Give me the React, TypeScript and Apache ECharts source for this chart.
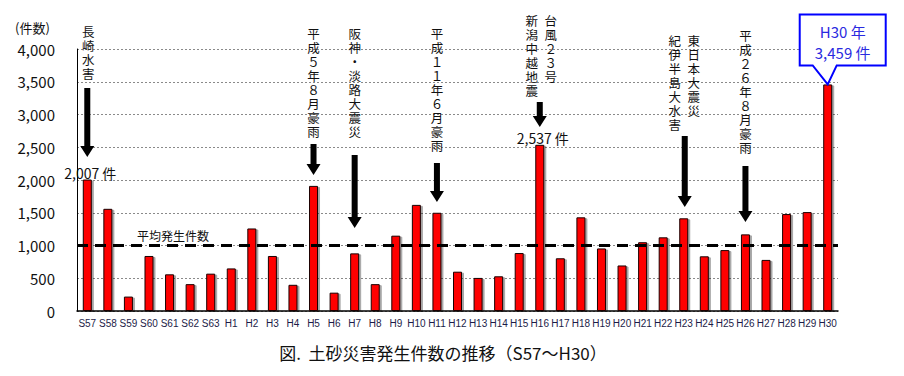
import React, { useEffect, useRef } from "react";
import * as echarts from "echarts";

const categories = [
  "S57", "S58", "S59", "S60", "S61", "S62", "S63",
  "H1", "H2", "H3", "H4", "H5", "H6", "H7", "H8", "H9", "H10",
  "H11", "H12", "H13", "H14", "H15", "H16", "H17", "H18", "H19", "H20",
  "H21", "H22", "H23", "H24", "H25", "H26", "H27", "H28", "H29", "H30",
];

const counts = [
  2007, 1560, 220, 840, 560, 410, 570,
  650, 1260, 840, 400, 1910, 280, 880, 410, 1150, 1620,
  1500, 600, 505, 530, 885, 2537, 805, 1430, 955, 695,
  1050, 1125, 1415, 835, 930, 1170, 780, 1480, 1510, 3459,
];

const yTicks = [0, 500, 1000, 1500, 2000, 2500, 3000, 3500, 4000];
const averageCount = 1010;

const averageLabel = "平均発生件数";
const yUnit = "(件数)";
const titleText = "図.  土砂災害発生件数の推移（S57～H30）";

const eventNotes = [
  { cat: "S57", cols: [{ text: "長崎水害", dx: 1, top: 26 }], arrowTop: 88, arrowTip: 157 },
  { cat: "H5", cols: [{ text: "平成５年８月豪雨", dx: 0, top: 28 }], arrowTop: 144, arrowTip: 175 },
  { cat: "H7", cols: [{ text: "阪神・淡路大震災", dx: 0, top: 28 }], arrowTop: 155, arrowTip: 228 },
  { cat: "H11", cols: [{ text: "平成１１年６月豪雨", dx: 0, top: 28 }], arrowTop: 163, arrowTip: 202 },
  {
    cat: "H16",
    cols: [
      { text: "新潟中越地震", dx: -8, top: 15 },
      { text: "台風２３号", dx: 11, top: 15 },
    ],
    arrowTop: 102,
    arrowTip: 127,
  },
  {
    cat: "H23",
    cols: [
      { text: "東日本大震災", dx: 10, top: 35 },
      { text: "紀伊半島大水害", dx: -9, top: 35 },
    ],
    arrowTop: 136,
    arrowTip: 207,
  },
  { cat: "H26", cols: [{ text: "平成２６年８月豪雨", dx: 0, top: 30 }], arrowTop: 166, arrowTip: 222 },
];

const valueLabelCats = ["S57", "H16"];
const calloutCat = "H30";

const FONT = "'Noto Sans CJK JP', 'Noto Sans', sans-serif";
const VFONT = "'Liberation Sans', 'Noto Sans CJK JP', sans-serif";

export default function App() {
  const ref = useRef<HTMLDivElement>(null);

  useEffect(() => {
    if (!ref.current) return;
    const chart = echarts.init(ref.current, undefined, { renderer: "svg" });

    chart.setOption({
      animation: false,
      backgroundColor: "#ffffff",
      grid: { left: 77, right: 66, top: 49, bottom: 65, containLabel: false },
      xAxis: {
        type: "category",
        data: categories,
        boundaryGap: true,
        axisLine: { show: true, lineStyle: { color: "#000", width: 1.5 } },
        axisTick: { show: false },
        axisLabel: {
          interval: 0,
          margin: 7,
          fontSize: 10,
          color: "#1c1c48",
          fontFamily: "'Liberation Sans', Arial, sans-serif",
        },
        splitLine: { show: false },
      },
      yAxis: {
        type: "value",
        min: yTicks[0],
        max: yTicks[yTicks.length - 1],
        interval: yTicks[1] - yTicks[0],
        axisLine: { show: true, lineStyle: { color: "#000", width: 1 } },
        axisTick: { show: false },
        axisLabel: {
          margin: 22,
          fontSize: 15,
          color: "#111",
          fontFamily: FONT,
          formatter: (v: number) => v.toLocaleString("en-US"),
        },
        splitLine: { show: true, lineStyle: { color: "#8a8a8a", type: [2, 2], width: 1 } },
      },
      series: [
        {
          type: "bar",
          data: counts,
          barWidth: 9,
          itemStyle: {
            color: "#ff0000",
            borderColor: "#1a0000",
            borderWidth: 1,
            shadowColor: "rgba(0,0,0,0.35)",
            shadowOffsetX: 2,
            shadowOffsetY: 1,
            shadowBlur: 0,
          },
          markLine: {
            silent: true,
            symbol: "none",
            label: { show: false },
            lineStyle: { color: "#000", width: 3, type: [11, 7] },
            data: [{ yAxis: averageCount }],
          },
          z: 3,
        },
      ],
    });

    const px = (cat: string) => chart.convertToPixel({ xAxisIndex: 0 }, cat) as number;
    const py = (v: number) => chart.convertToPixel({ yAxisIndex: 0 }, v) as number;

    const graphics: any[] = [];

    graphics.push({
      type: "text",
      left: 15,
      top: 21,
      style: { text: yUnit, font: `13px ${FONT}`, fill: "#111" },
    });

    graphics.push({
      type: "text",
      x: 137,
      y: py(averageCount) - 9,
      style: {
        text: averageLabel,
        font: `12px ${FONT}`,
        fill: "#111",
        textAlign: "left",
        textVerticalAlign: "middle",
      },
    });

    eventNotes.forEach((n) => {
      const x = px(n.cat);
      n.cols.forEach((c) => {
        graphics.push({
          type: "text",
          x: x + c.dx,
          y: c.top,
          style: {
            text: Array.from(c.text).join("\n"),
            font: `12.5px ${VFONT}`,
            lineHeight: 14,
            fill: "#111",
            textAlign: "center",
            textVerticalAlign: "top",
          },
        });
      });
      const ax = x + (n.cat === "H23" ? 1 : 0);
      const t = n.arrowTop;
      const b = n.arrowTip;
      graphics.push({
        type: "polygon",
        shape: {
          points: [
            [ax - 3, t],
            [ax + 3, t],
            [ax + 3, b - 11],
            [ax + 7, b - 11],
            [ax, b],
            [ax - 7, b - 11],
            [ax - 3, b - 11],
          ],
        },
        style: { fill: "#000" },
      });
    });

    valueLabelCats.forEach((cat) => {
      const i = categories.indexOf(cat);
      graphics.push({
        type: "text",
        x: px(cat) + 3,
        y: py(counts[i]) - 7,
        style: {
          text: `${counts[i].toLocaleString("en-US")} 件`,
          font: `14px ${FONT}`,
          fill: "#111",
          textAlign: "center",
          textVerticalAlign: "middle",
        },
        z: 10,
      });
    });

    {
      const i = categories.indexOf(calloutCat);
      const tx = px(calloutCat);
      const ty = py(counts[i]);
      const L = tx - 28, R = tx + 58, T = ty - 70, B = ty - 19;
      graphics.push({
        type: "polygon",
        shape: {
          points: [
            [L, T], [R, T], [R, B], [tx + 9, B], [tx, ty], [tx - 15, B], [L, B],
          ],
        },
        style: { fill: "#fff", stroke: "#0000ff", lineWidth: 2 },
        z: 10,
      });
      const cx = (L + R) / 2;
      graphics.push({
        type: "text",
        x: cx,
        y: T + 17,
        style: {
          text: `${calloutCat} 年`,
          font: `15px ${FONT}`,
          fill: "#2a2ae0",
          textAlign: "center",
          textVerticalAlign: "middle",
        },
        z: 11,
      });
      graphics.push({
        type: "text",
        x: cx,
        y: T + 38,
        style: {
          text: `${counts[i].toLocaleString("en-US")} 件`,
          font: `15px ${FONT}`,
          fill: "#2a2ae0",
          textAlign: "center",
          textVerticalAlign: "middle",
        },
        z: 11,
      });
    }

    graphics.push({
      type: "text",
      x: 443,
      y: 352,
      style: {
        text: titleText,
        font: `17px ${FONT}`,
        fill: "#111",
        textAlign: "center",
        textVerticalAlign: "middle",
      },
    });

    chart.setOption({ graphic: graphics });

    return () => chart.dispose();
  }, []);

  return (
    <div
      ref={ref}
      style={{ position: "absolute", left: 0, top: 0, width: 904, height: 376 }}
    />
  );
}
